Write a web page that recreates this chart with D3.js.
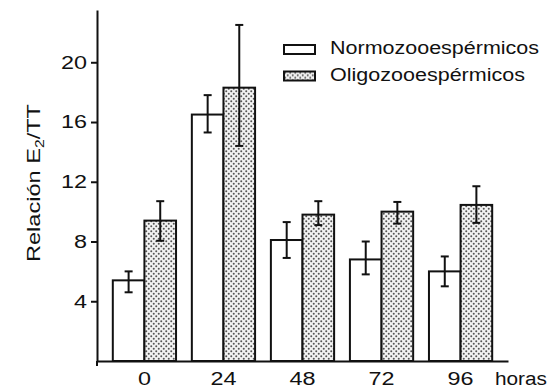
<!DOCTYPE html>
<html lang="es">
<head>
<meta charset="utf-8">
<title>Relación E2/TT</title>
<style>
  body { margin: 0; background: #fff; }
  svg text { font-family: "Liberation Sans", Arial, Helvetica, sans-serif; fill: #111; }
</style>
</head>
<body>
<div id="chart"></div>
<script src="https://cdnjs.cloudflare.com/ajax/libs/d3/7.8.5/d3.min.js"></script>
<script>
// data
var hours = ["0", "24", "48", "72", "96"];
var normo = [5.4, 16.5, 8.1, 6.8, 6.0];
var normoLow = [4.6, 15.3, 6.9, 5.8, 5.0];
var normoHigh = [6.0, 17.8, 9.3, 8.0, 7.0];
var oligo = [9.4, 18.3, 9.8, 10.0, 10.45];
var oligoLow = [8.05, 14.4, 9.1, 9.2, 9.25];
var oligoHigh = [10.7, 22.5, 10.7, 10.65, 11.7];
var yTicks = [4, 8, 12, 16, 20];
var seriesNames = ["Normozooespérmicos", "Oligozooespérmicos"];

var width = 554, height = 390;
var svg = d3.select("#chart").append("svg")
    .attr("width", width)
    .attr("height", height);

// dotted fill
var pat = svg.append("defs").append("pattern")
    .attr("id", "dots")
    .attr("patternUnits", "userSpaceOnUse")
    .attr("width", 5).attr("height", 5);
pat.append("rect").attr("width", 5).attr("height", 5).attr("fill", "#f2f2f2");
pat.append("circle").attr("cx", 1.25).attr("cy", 1.25).attr("r", 1).attr("fill", "#555");
pat.append("circle").attr("cx", 3.75).attr("cy", 3.75).attr("r", 1).attr("fill", "#555");

var x0 = 97, x1 = 508, yBase = 361;
var y = d3.scaleLinear().domain([0, 23.5]).range([yBase, 10]);
var x = d3.scaleBand().domain(hours).range([x0, x1]).paddingInner(0.2).paddingOuter(0.2);
var xs = d3.scaleBand().domain([0, 1]).range([0, x.bandwidth()]);

var rows = hours.map(function(h, i) {
  return [
    {h: h, s: 0, v: normo[i], lo: normoLow[i], hi: normoHigh[i]},
    {h: h, s: 1, v: oligo[i], lo: oligoLow[i], hi: oligoHigh[i]}
  ];
});
var items = d3.merge(rows);

// bars
svg.append("g").selectAll("rect")
    .data(items)
    .enter().append("rect")
    .attr("x", function(d) { return x(d.h) + xs(d.s); })
    .attr("y", function(d) { return y(d.v); })
    .attr("width", xs.bandwidth())
    .attr("height", function(d) { return yBase - y(d.v); })
    .attr("fill", function(d) { return d.s ? "url(#dots)" : "#fff"; })
    .attr("stroke", "#111")
    .attr("stroke-width", 2);

// error bars
var eb = svg.append("g").attr("stroke", "#111").attr("stroke-width", 2)
    .selectAll("g").data(items).enter().append("g")
    .attr("transform", function(d) { return "translate(" + (x(d.h) + xs(d.s) + xs.bandwidth() / 2) + ",0)"; });
eb.append("line")
    .attr("y1", function(d) { return y(d.lo); })
    .attr("y2", function(d) { return y(d.hi); });
eb.append("line").attr("x1", -4).attr("x2", 4)
    .attr("y1", function(d) { return y(d.hi); })
    .attr("y2", function(d) { return y(d.hi); });
eb.append("line").attr("x1", -4).attr("x2", 4)
    .attr("y1", function(d) { return y(d.lo); })
    .attr("y2", function(d) { return y(d.lo); });

// y axis
var yAxis = svg.append("g")
    .attr("transform", "translate(" + x0 + ",0)")
    .call(d3.axisLeft(y).tickValues(yTicks).tickSize(6).tickSizeOuter(0).tickPadding(4));
yAxis.select(".domain").attr("stroke-width", 2).attr("stroke", "#111");
yAxis.selectAll(".tick line").attr("stroke-width", 2).attr("stroke", "#111");
yAxis.selectAll(".tick text")
    .attr("font-size", 18)
    .attr("textLength", function(d) { return String(d).length * 13; })
    .attr("lengthAdjust", "spacingAndGlyphs")
    .attr("fill", "#111");
yAxis.append("line")
    .attr("y1", yBase).attr("y2", yBase + 5)
    .attr("stroke", "#111").attr("stroke-width", 2);

// x axis
var xAxis = svg.append("g")
    .attr("transform", "translate(0," + yBase + ")")
    .call(d3.axisBottom(x).tickSize(0).tickPadding(11));
xAxis.select(".domain").attr("stroke-width", 2).attr("stroke", "#111");
xAxis.selectAll(".tick text")
    .attr("font-size", 18)
    .attr("textLength", function(d) { return d.length * 13; })
    .attr("lengthAdjust", "spacingAndGlyphs")
    .attr("fill", "#111");

svg.append("text")
    .attr("x", 521).attr("y", 385)
    .attr("text-anchor", "middle")
    .attr("font-size", 18)
    .attr("textLength", 52)
    .attr("lengthAdjust", "spacingAndGlyphs")
    .text("horas");

// y label
var yl = svg.append("text")
    .attr("transform", "translate(40,183) rotate(-90)")
    .attr("text-anchor", "middle")
    .attr("font-size", 18)
    .attr("textLength", 158)
    .attr("lengthAdjust", "spacingAndGlyphs");
yl.append("tspan").text("Relación E");
yl.append("tspan").attr("font-size", 12).attr("dy", 4).text("2");
yl.append("tspan").attr("dy", -4).text("/TT");

// legend
var lg = svg.append("g").selectAll("g")
    .data(seriesNames).enter().append("g")
    .attr("transform", function(d, i) { return "translate(284," + (45 + i * 26.5) + ")"; });
lg.append("rect")
    .attr("width", 31).attr("height", 9)
    .attr("fill", function(d, i) { return i ? "url(#dots)" : "#fff"; })
    .attr("stroke", "#111").attr("stroke-width", 2);
lg.append("text")
    .attr("x", 46).attr("y", 9)
    .attr("font-size", 18)
    .attr("textLength", function(d, i) { return i ? 195 : 209; })
    .attr("lengthAdjust", "spacingAndGlyphs")
    .text(function(d) { return d; });
</script>
</body>
</html>
